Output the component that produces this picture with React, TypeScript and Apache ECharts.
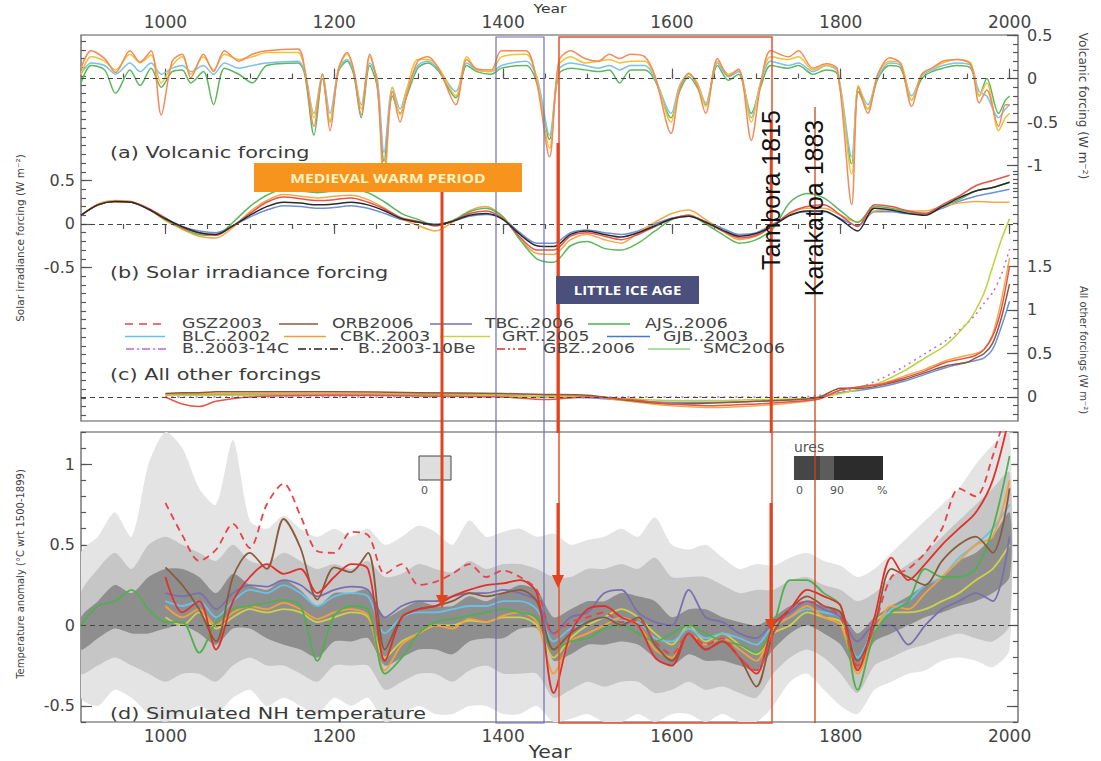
import React, { useEffect, useRef } from "react";
import * as echarts from "echarts";

// ---------------- DATA ----------------
const X_LABELS = [1000, 1200, 1400, 1600, 1800, 2000];
const X_MINOR = [950, 1000, 1050, 1100, 1150, 1200, 1250, 1300, 1350, 1400, 1450, 1500, 1550, 1600, 1650, 1700, 1750, 1800, 1850, 1900, 1950, 2000];

// (a) Volcanic forcing
const V_YEARS = [
  900, 912, 928, 941, 958, 970, 983, 995, 1008, 1020,
  1030, 1045, 1057, 1070, 1087, 1103, 1120, 1157, 1165, 1176,
  1186, 1195, 1205, 1215, 1223, 1232, 1242, 1251, 1259, 1269,
  1278, 1286, 1299, 1311, 1324, 1344, 1357, 1369, 1386, 1398,
  1427, 1440, 1455, 1466, 1480, 1497, 1513, 1526, 1538, 1551,
  1568, 1580, 1599, 1609, 1620, 1630, 1640, 1654, 1667, 1679,
  1694, 1705, 1717, 1738, 1750, 1767, 1783, 1796, 1813, 1821,
  1832, 1844, 1858, 1871, 1884, 1896, 1908, 1921, 1937, 1954,
  1964, 1973, 1987, 1995, 2000,
];
const V_ORANGE = [
  0.12, 0.32, 0.23, 0.07, 0.32, 0.19, 0.32, -0.42, 0.2, 0.28,
  0.01, 0.28, 0.08, 0.32, 0.2, 0.28, 0.32, 0.34, 0.11, -0.55,
  0.05, -0.6, 0.11, 0.3, 0.1, -0.42, 0.28, -0.08, -1.1, -0.15,
  -0.5, -0.18, 0.2, 0.25, 0.11, -0.3, 0.22, 0.11, 0.1, 0.32,
  0.32, -0.05, -0.9, 0.2, 0.32, 0.23, 0.2, 0.28, 0.23, 0.28,
  0.25, 0.03, -0.63, -0.13, 0.06, -0.08, -0.4, 0.23, 0.03, 0.11,
  -0.71, -0.08, 0.32, 0.25, 0.32, 0.12, 0.17, 0.11, -1.45, -0.1,
  -0.4, 0.05, 0.24, 0.17, -0.32, 0.05, 0.12, 0.2, 0.22, 0.16,
  -0.28, -0.13, -0.55, -0.3, -0.3,
];
const V_YELLOW = [
  0.05, 0.25, 0.2, 0.1, 0.28, 0.18, 0.27, -0.05, 0.15, 0.25,
  0.05, 0.25, 0.1, 0.28, 0.22, 0.25, 0.3, 0.3, 0.1, -0.45,
  0.05, -0.5, 0.1, 0.28, 0.1, -0.35, 0.25, -0.05, -1.3, -0.1,
  -0.42, -0.12, 0.22, 0.22, 0.12, -0.2, 0.25, 0.1, 0.08, 0.25,
  0.28, 0.0, -0.8, 0.15, 0.25, 0.18, 0.2, 0.22, 0.18, 0.2,
  0.2, 0.02, -0.5, -0.1, 0.05, -0.05, -0.32, 0.2, 0.05, 0.1,
  -0.5, -0.05, 0.25, 0.22, 0.25, 0.1, 0.15, 0.1, -1.1, -0.08,
  -0.35, 0.05, 0.2, 0.18, -0.25, 0.05, 0.12, 0.18, 0.22, 0.18,
  -0.2, -0.05, -0.6, -0.45, -0.4,
];
const V_GREEN = [
  -0.05, 0.15, 0.1, -0.17, 0.1, -0.08, 0.12, -0.1, 0.08, 0.1,
  -0.05, 0.08, -0.3, 0.12, 0.05, -0.05, 0.15, 0.18, 0.05, -0.65,
  0.0, -0.5, 0.08, 0.2, 0.05, -0.45, 0.15, -0.1, -0.95, -0.2,
  -0.4, -0.2, 0.12, 0.18, 0.08, -0.22, 0.15, 0.08, 0.05, 0.12,
  0.15, -0.05, -0.7, 0.05, 0.12, 0.1, 0.08, 0.1, -0.05, 0.1,
  0.1, -0.02, -0.45, -0.15, 0.02, -0.1, -0.3, 0.15, -0.02, 0.05,
  -0.4, -0.1, 0.15, 0.12, 0.15, 0.05, 0.1, 0.05, -0.98, -0.15,
  -0.35, 0.0, 0.15, 0.12, -0.25, 0.0, 0.08, 0.12, 0.15, 0.12,
  -0.2, 0.0, -0.4, -0.25, -0.2,
];
const V_BLUE = [
  0.05, 0.18, 0.15, 0.05, 0.18, 0.08, 0.18, 0.05, 0.12, 0.15,
  0.08, 0.15, 0.05, 0.18, 0.12, 0.15, 0.18, 0.2, 0.08, -0.4,
  0.05, -0.4, 0.1, 0.22, 0.08, -0.3, 0.18, 0.0, -0.85, -0.1,
  -0.35, -0.12, 0.15, 0.2, 0.1, -0.15, 0.18, 0.1, 0.08, 0.15,
  0.2, 0.02, -0.65, 0.1, 0.18, 0.15, 0.12, 0.15, 0.1, 0.15,
  0.15, 0.0, -0.4, -0.08, 0.05, -0.05, -0.28, 0.18, 0.02, 0.08,
  -0.45, -0.05, 0.2, 0.15, 0.18, 0.08, 0.15, 0.08, -0.9, -0.1,
  -0.3, 0.02, 0.18, 0.15, -0.2, 0.03, 0.1, 0.15, 0.18, 0.15,
  -0.15, -0.2, -0.45, -0.35, -0.3,
];

// 20-year sampling grids
const T_YEARS = [
  1000, 1020, 1040, 1060, 1080, 1100, 1120, 1140, 1160, 1180,
  1200, 1220, 1240, 1260, 1280, 1300, 1320, 1340, 1360, 1380,
  1400, 1420, 1440, 1460, 1480, 1500, 1520, 1540, 1560, 1580,
  1600, 1620, 1640, 1660, 1680, 1700, 1720, 1740, 1760, 1780,
  1800, 1820, 1840, 1860, 1880, 1900, 1920, 1940, 1960, 1980,
  2000,
];
const B_YEARS = [900, 920, 940, 960, 980, ...T_YEARS];

// (b) Solar irradiance forcing (on B_YEARS)
const S_RED = [
  0.1, 0.22, 0.26, 0.25, 0.18,
  0.07, -0.04, -0.1, -0.13, -0.02, 0.12, 0.25, 0.31, 0.29, 0.27,
  0.28, 0.3, 0.25, 0.17, 0.07, 0.03, -0.02, 0.03, 0.12, 0.15,
  0.06, -0.15, -0.3, -0.3, -0.14, -0.1, -0.14, -0.18, -0.12, -0.03,
  0.06, 0.1, 0.02, -0.08, -0.16, -0.13, -0.02, 0.13, 0.2, 0.22,
  0.1, -0.03, 0.22, 0.2, 0.15, 0.12, 0.22, 0.32, 0.44, 0.5,
  0.56,
];
const S_GREEN = [
  0.1, 0.22, 0.26, 0.25, 0.17,
  0.05, -0.05, -0.12, -0.13, 0.02, 0.2, 0.33, 0.4, 0.38, 0.36,
  0.38, 0.4, 0.36, 0.25, 0.12, 0.05, -0.02, 0.04, 0.14, 0.18,
  0.08, -0.18, -0.4, -0.44, -0.25, -0.2, -0.28, -0.3, -0.22, -0.08,
  0.05, 0.1, 0.0, -0.12, -0.22, -0.18, -0.05, 0.25, 0.35, 0.3,
  0.15, 0.02, 0.2, 0.18, 0.14, 0.12, 0.2, 0.28, 0.38, 0.42,
  0.48,
];
const S_BLACK = [
  0.1, 0.22, 0.26, 0.25, 0.17,
  0.06, -0.03, -0.1, -0.12, -0.02, 0.1, 0.2, 0.25, 0.24, 0.22,
  0.23, 0.25, 0.22, 0.15, 0.06, 0.02, -0.01, 0.03, 0.1, 0.12,
  0.05, -0.12, -0.25, -0.26, -0.12, -0.08, -0.12, -0.15, -0.1, -0.02,
  0.06, 0.09, 0.02, -0.07, -0.14, -0.11, -0.02, 0.1, 0.15, 0.15,
  0.05, -0.08, 0.18, 0.16, 0.12, 0.1, 0.2, 0.3, 0.38, 0.42,
  0.48,
];
const S_BLUE = [
  0.1, 0.22, 0.26, 0.25, 0.17,
  0.06, -0.03, -0.08, -0.1, -0.02, 0.08, 0.16, 0.21, 0.2, 0.18,
  0.19, 0.21, 0.18, 0.12, 0.05, 0.02, 0.0, 0.03, 0.09, 0.11,
  0.06, -0.1, -0.22, -0.22, -0.1, -0.07, -0.1, -0.12, -0.08, 0.0,
  0.07, 0.09, 0.03, -0.05, -0.12, -0.1, 0.0, 0.1, 0.14, 0.14,
  0.06, -0.02, 0.14, 0.14, 0.12, 0.12, 0.18, 0.26, 0.32, 0.36,
  0.4,
];
const S_ORANGE = [
  0.1, 0.23, 0.27, 0.26, 0.17,
  0.04, -0.06, -0.14, -0.16, -0.04, 0.14, 0.27, 0.34, 0.32, 0.3,
  0.32, 0.33, 0.28, 0.18, 0.06, -0.02, -0.08, 0.02, 0.15, 0.2,
  0.08, -0.17, -0.34, -0.35, -0.18, -0.12, -0.18, -0.22, -0.1, 0.02,
  0.12, 0.16, 0.05, -0.08, -0.18, -0.14, -0.02, 0.12, 0.18, 0.18,
  0.1, 0.02, 0.15, 0.16, 0.15, 0.15, 0.2, 0.24, 0.26, 0.25,
  0.25,
];

// (c) All other forcings
const O_YEARS = [1000, 1020, 1040, 1060, 1100, 1200, 1300, 1400, 1450, 1500, 1550, 1600, 1650, 1700, 1750, 1775, 1800, 1825, 1850, 1875, 1900, 1925, 1950, 1960, 1970, 1980, 1990, 2000];
const O_RED = [0.0, -0.08, -0.11, -0.05, 0.0, 0.02, 0.01, 0.0, -0.03, 0.0, -0.03, -0.08, -0.1, -0.08, -0.05, -0.02, 0.08, 0.12, 0.15, 0.22, 0.3, 0.4, 0.45, 0.48, 0.55, 0.7, 1.0, 1.5];
const O_BROWN = [0.04, 0.05, 0.05, 0.06, 0.06, 0.06, 0.05, 0.04, 0.03, 0.02, -0.04, -0.08, -0.07, -0.05, -0.03, 0.0, 0.1, 0.1, 0.14, 0.2, 0.28, 0.36, 0.4, 0.45, 0.5, 0.62, 0.9, 1.3];
const O_YGREEN = [0.02, 0.02, 0.02, 0.02, 0.02, 0.02, 0.02, 0.01, 0.0, 0.0, -0.02, -0.04, -0.04, -0.03, -0.02, 0.0, 0.04, 0.1, 0.18, 0.3, 0.45, 0.6, 0.85, 1.0, 1.2, 1.5, 1.8, 2.05];
const O_PURPLE = [0.0, 0.0, 0.0, 0.0, 0.0, 0.0, 0.0, 0.0, 0.0, 0.0, 0.0, 0.0, 0.0, 0.0, 0.0, 0.02, 0.06, 0.12, 0.22, 0.35, 0.5, 0.65, 0.85, 0.95, 1.08, 1.2, 1.4, 1.7];
const O_BLUE = [0.03, 0.03, 0.03, 0.03, 0.03, 0.03, 0.03, 0.02, 0.0, -0.01, -0.04, -0.06, -0.06, -0.05, -0.03, -0.01, 0.05, 0.08, 0.12, 0.18, 0.26, 0.34, 0.4, 0.42, 0.45, 0.55, 0.8, 1.1];
const O_ORANGE = [0.03, 0.04, 0.04, 0.04, 0.04, 0.04, 0.04, 0.03, 0.02, 0.01, -0.05, -0.1, -0.12, -0.1, -0.06, -0.02, 0.08, 0.12, 0.16, 0.24, 0.32, 0.42, 0.48, 0.5, 0.55, 0.72, 1.1, 1.6];

// (d) Simulated NH temperature: spread bands (on B_YEARS)
const BAND_OUT_HI = [
  0.45, 0.55, 0.7, 0.55, 1.0,
  1.2, 1.1, 0.85, 0.75, 1.15, 0.65, 0.6, 0.68, 0.6, 0.55,
  0.6, 0.55, 0.6, 0.5, 0.55, 0.62, 0.58, 0.5, 0.65, 0.55,
  0.58, 0.6, 0.55, 0.57, 0.5, 0.53, 0.55, 0.6, 0.55, 0.67,
  0.5, 0.47, 0.5, 0.42, 0.35, 0.38, 0.37, 0.42, 0.45, 0.4,
  0.37, 0.3, 0.35, 0.45, 0.55, 0.65, 0.75, 0.85, 1.0, 1.12,
  1.2,
];
const BAND_OUT_LO = [
  -0.45, -0.5, -0.4, -0.45, -0.55,
  -0.6, -0.55, -0.5, -0.55, -0.45, -0.4, -0.5, -0.45, -0.5, -0.55,
  -0.45, -0.5, -0.45, -0.6, -0.55, -0.5, -0.55, -0.55, -0.5, -0.5,
  -0.55, -0.55, -0.5, -0.6, -0.58, -0.55, -0.6, -0.6, -0.55, -0.6,
  -0.55, -0.55, -0.6, -0.55, -0.6, -0.6, -0.5, -0.35, -0.3, -0.4,
  -0.5, -0.55, -0.4, -0.35, -0.3, -0.28, -0.22, -0.2, -0.22, -0.26,
  -0.15,
];
const BAND_MID_HI = [
  0.2, 0.35, 0.45, 0.35, 0.5,
  0.55, 0.5, 0.45, 0.4, 0.5, 0.4, 0.38, 0.45, 0.4, 0.35,
  0.38, 0.35, 0.4, 0.3, 0.32, 0.38, 0.35, 0.33, 0.4, 0.35,
  0.38, 0.38, 0.35, 0.3, 0.3, 0.35, 0.35, 0.38, 0.35, 0.42,
  0.3, 0.3, 0.3, 0.25, 0.2, 0.22, 0.22, 0.28, 0.3, 0.25,
  0.22, 0.15, 0.2, 0.3, 0.38, 0.45, 0.55, 0.65, 0.75, 0.85,
  0.95,
];
const BAND_MID_LO = [
  -0.3, -0.25, -0.2, -0.25, -0.3,
  -0.35, -0.3, -0.3, -0.35, -0.25, -0.2, -0.25, -0.25, -0.3, -0.35,
  -0.25, -0.25, -0.25, -0.4, -0.35, -0.3, -0.3, -0.35, -0.28, -0.25,
  -0.3, -0.3, -0.3, -0.45, -0.4, -0.35, -0.38, -0.35, -0.35, -0.42,
  -0.4, -0.35, -0.4, -0.38, -0.42, -0.45, -0.3, -0.2, -0.15, -0.2,
  -0.3, -0.42, -0.25, -0.2, -0.15, -0.12, -0.08, -0.05, -0.08, -0.1,
  0.0,
];
const BAND_IN_HI = [
  0.05, 0.15, 0.25, 0.2, 0.3,
  0.35, 0.35, 0.3, 0.2, 0.32, 0.25, 0.22, 0.28, 0.22, 0.12,
  0.2, 0.2, 0.22, 0.05, 0.1, 0.15, 0.12, 0.12, 0.18, 0.15,
  0.2, 0.25, 0.22, 0.05, 0.1, 0.15, 0.15, 0.2, 0.18, 0.15,
  0.05, 0.1, 0.1, 0.05, 0.02, 0.0, 0.05, 0.12, 0.15, 0.12,
  0.08, -0.05, 0.05, 0.12, 0.18, 0.25, 0.3, 0.4, 0.45, 0.55,
  0.7,
];
const BAND_IN_LO = [
  -0.15, -0.08, -0.02, -0.05, -0.05,
  -0.02, 0.0, -0.05, -0.12, -0.02, -0.02, -0.08, -0.12, -0.15, -0.2,
  -0.1, -0.1, -0.08, -0.25, -0.2, -0.15, -0.15, -0.18, -0.1, -0.08,
  -0.08, -0.02, -0.02, -0.22, -0.18, -0.12, -0.12, -0.1, -0.12, -0.2,
  -0.25, -0.18, -0.22, -0.22, -0.25, -0.28, -0.15, -0.05, 0.0, -0.05,
  -0.12, -0.28, -0.1, -0.05, 0.0, 0.05, 0.08, 0.12, 0.15, 0.2,
  0.3,
];

// (d) temperature series (on T_YEARS; AJS on B_YEARS)
const T_GSZ = [
  0.76, 0.56, 0.4, 0.47, 0.63, 0.48, 0.75, 0.88, 0.68, 0.46,
  0.45, 0.58, 0.56, 0.32, 0.38, 0.25, 0.27, 0.32, 0.38, 0.3,
  0.34, 0.3, 0.22, -0.05, 0.02, 0.05, 0.08, 0.02, 0.03, -0.1,
  -0.18, -0.05, -0.12, -0.08, -0.2, -0.28, -0.05, 0.1, 0.15, 0.12,
  0.05, -0.25, 0.0, 0.3, 0.35, 0.45, 0.6, 0.85, 0.8, 1.05,
  1.4,
];
const T_ORB = [
  0.36, 0.25, 0.1, -0.1, 0.3, 0.45, 0.35, 0.66, 0.48, 0.16,
  0.36, 0.33, 0.45, -0.15, 0.05, 0.1, 0.12, 0.15, 0.2, 0.18,
  0.2, 0.22, 0.15, -0.15, -0.05, 0.02, 0.05, 0.0, 0.05, -0.12,
  -0.22, -0.05, -0.15, -0.1, -0.2, -0.38, -0.05, 0.1, 0.18, 0.12,
  0.08, -0.22, 0.0, 0.35, 0.3, 0.25, 0.4, 0.5, 0.55, 0.45,
  0.85,
];
const T_AJS = [
  0.0, 0.12, 0.15, 0.22, 0.1,
  0.02, 0.02, -0.17, 0.02, 0.1, 0.12, 0.14, 0.16, 0.12, -0.22,
  0.06, 0.12, 0.1, -0.3, -0.2, -0.05, 0.02, 0.04, 0.06, 0.08,
  0.1, 0.08, 0.05, -0.15, -0.1, -0.08, -0.02, 0.0, -0.05, -0.1,
  -0.05, 0.0, -0.05, -0.1, -0.12, -0.17, 0.0, 0.28, 0.28, 0.2,
  0.12, -0.4, -0.05, 0.08, 0.15, 0.35, 0.3, 0.3, 0.35, 0.6,
  1.05,
];
const T_CBK = [
  0.12, 0.05, 0.1, 0.0, 0.08, 0.12, 0.1, 0.14, 0.1, 0.04,
  0.08, 0.1, 0.06, -0.28, -0.12, -0.05, 0.0, -0.02, 0.04, 0.02,
  0.06, 0.08, 0.02, -0.3, -0.1, -0.05, 0.0, 0.05, 0.0, -0.15,
  -0.2, -0.05, -0.12, -0.08, -0.15, -0.22, -0.02, 0.05, 0.12, 0.05,
  0.0, -0.3, -0.05, 0.12, 0.1, 0.2, 0.3, 0.4, 0.5, 0.55,
  0.9,
];
const T_BLC = [
  0.15, 0.12, 0.15, 0.05, 0.15, 0.22, 0.2, 0.25, 0.2, 0.12,
  0.18, 0.2, 0.18, -0.05, 0.05, 0.08, 0.08, 0.1, 0.12, 0.12,
  0.15, 0.15, 0.1, -0.1, -0.02, 0.02, 0.05, 0.03, 0.02, -0.08,
  -0.1, -0.02, -0.08, -0.05, -0.08, -0.12, 0.0, 0.05, 0.1, 0.08,
  0.05, -0.2, -0.02, 0.1, 0.15, 0.25, 0.3, 0.42, 0.5, 0.6,
  0.75,
];
const T_TBC = [
  0.2, 0.18, 0.2, 0.1, 0.2, 0.25, 0.24, 0.28, 0.25, 0.18,
  0.22, 0.24, 0.22, 0.05, 0.12, 0.15, 0.15, 0.18, 0.2, 0.2,
  0.22, 0.2, 0.15, -0.05, 0.05, 0.08, 0.2, 0.22, 0.08, 0.02,
  0.0, 0.22, 0.05, 0.02, -0.05, -0.08, 0.02, 0.08, 0.15, 0.1,
  0.05, -0.1, 0.0, 0.0, -0.12, 0.0, 0.1, 0.15, 0.2, 0.15,
  0.55,
];
const T_GBZ = [
  0.3, 0.08, 0.15, -0.15, 0.15, 0.3, 0.38, 0.32, 0.35, 0.2,
  0.3, 0.38, 0.35, -0.22, 0.05, 0.1, 0.12, 0.18, 0.22, 0.25,
  0.26, 0.28, 0.2, -0.42, -0.05, 0.1, 0.12, 0.05, 0.0, -0.2,
  -0.25, -0.05, -0.15, -0.1, -0.2, -0.3, 0.0, 0.1, 0.22, 0.18,
  0.12, -0.28, 0.05, 0.42, 0.28, 0.38, 0.5, 0.6, 0.7, 0.9,
  1.3,
];
const T_GRT = [
  0.05, 0.0, 0.08, -0.02, 0.05, 0.1, 0.08, 0.1, 0.08, 0.02,
  0.05, 0.08, 0.05, -0.2, -0.1, -0.05, 0.0, 0.0, 0.03, 0.02,
  0.05, 0.05, 0.0, -0.2, -0.08, 0.0, 0.05, 0.1, 0.05, -0.05,
  -0.12, 0.0, -0.1, -0.05, -0.12, -0.18, -0.05, 0.0, 0.08, 0.05,
  0.02, -0.28, 0.02, 0.08, 0.08, 0.1, 0.15, 0.2, 0.28, 0.35,
  0.5,
];

const LEGEND_NAMES = [
  "GSZ2003", "ORB2006", "TBC..2006", "AJS..2006",
  "BLC..2002", "CBK..2003", "GRT..2005", "GJB..2003",
  "B..2003-14C", "B..2003-10Be", "GBZ..2006", "SMC2006",
];

// ---------------- STYLE ----------------
const FONT = "DejaVu Sans";
const C = {
  GSZ: "#e8434a", ORB: "#8b5a3c", TBC: "#7b6fb0", AJS: "#4fb04f",
  BLC: "#66c2e8", CBK: "#f2a03d", GRT: "#cbd24a", GJB: "#4a78c8",
  B14: "#b56bd6", B10: "#222222", GBZ: "#e0302c", SMC: "#8fd48a",
};
const LEGEND_STYLE = [
  [C.GSZ, [8, 6]], [C.ORB, null], [C.TBC, null], [C.AJS, null],
  [C.BLC, null], [C.CBK, null], [C.GRT, null], [C.GJB, null],
  [C.B14, [8, 3, 2, 3]], [C.B10, [8, 3, 2, 3]], [C.GBZ, [8, 3, 2, 3, 2, 3]], [C.SMC, null],
];
const LEGEND_POS = [
  [125, 165, 182], [279, 318, 332], [430, 472, 485], [588, 630, 645],
  [125, 165, 182], [284, 326, 340], [440, 490, 502], [607, 650, 663],
  [126, 168, 182], [298, 346, 358], [497, 528, 543], [648, 690, 703],
];
const LEGEND_ROWS = [324, 336.5, 349];

const range = (a: number, b: number, s: number) => {
  const out: number[] = [];
  for (let v = a; v <= b + 1e-9; v += s) out.push(Math.round(v * 100) / 100);
  return out;
};
const pairs = (xs: number[], ys: number[]) => xs.map((x, i) => [x, ys[i]]);
const plain = (v: number) => String(v);

function xAx(grid: number, pos: string, ticks: number[], len: number, labels: boolean) {
  return {
    type: "value", gridIndex: grid, position: pos, min: 900, max: 2010,
    axisLine: { show: false }, splitLine: { show: false },
    axisTick: { show: true, inside: true, length: len, customValues: ticks, lineStyle: { color: "#555", width: 1.2 } },
    axisLabel: labels
      ? { show: true, customValues: X_LABELS, formatter: plain, fontSize: 17, color: "#444", margin: 5, fontFamily: FONT }
      : { show: false },
  };
}
function yAx(grid: number, pos: string, min: number, max: number, ticks: number[], len: number, labels: number[] | null) {
  return {
    type: "value", gridIndex: grid, position: pos, min, max,
    axisLine: { show: false }, splitLine: { show: false },
    axisTick: { show: true, inside: true, length: len, customValues: ticks, lineStyle: { color: "#555", width: 1.2 } },
    axisLabel: labels
      ? { show: true, customValues: labels, formatter: plain, fontSize: 16, color: "#444", margin: pos === "left" ? 6 : 9, fontFamily: FONT }
      : { show: false },
  };
}

function line(name: string, data: number[][], color: string, xi: number, yi: number, extra: any = {}) {
  return {
    type: "line", name, data, xAxisIndex: xi, yAxisIndex: yi,
    symbol: "none", showSymbol: false, smooth: 0.3, z: 3,
    lineStyle: { color, width: 1.5, type: extra.dash || "solid" },
    ...extra.series,
  };
}
function zeroLine() {
  return {
    silent: true, symbol: ["none", "none"], label: { show: false }, animation: false,
    lineStyle: { color: "#444", type: [5, 4], width: 1.1 }, data: [{ yAxis: 0 }],
  };
}
function band(lo: number[], hi: number[], color: string, id: string) {
  return {
    type: "custom", name: id, xAxisIndex: 4, yAxisIndex: 6, z: 1, silent: true, clip: true,
    data: B_YEARS.map((y, i) => [y, lo[i], hi[i]]),
    encode: { x: 0, y: [1, 2] },
    renderItem: (params: any, api: any) => {
      if (params.dataIndex !== 0) return null;
      const top = B_YEARS.map((y, i) => api.coord([y, hi[i]]));
      const bot = B_YEARS.map((y, i) => api.coord([y, lo[i]])).reverse();
      return {
        type: "polygon",
        shape: { points: [...top, ...bot], smooth: 0.25 },
        style: { fill: color, stroke: "none" },
      };
    },
  };
}

function buildOption() {
  const series: any[] = [];
  // (a) volcanic: x 0, y 2
  series.push(line("V-green", pairs(V_YEARS, V_GREEN), "#5cb85c", 0, 2, { series: { markLine: zeroLine() } }));
  series.push(line("V-blue", pairs(V_YEARS, V_BLUE), "#7ec0e8", 0, 2));
  series.push(line("V-yellow", pairs(V_YEARS, V_YELLOW), "#f0c236", 0, 2));
  series.push(line("V-orange", pairs(V_YEARS, V_ORANGE), "#f28a5a", 0, 2));
  // (b) solar: x 0, y 0
  series.push(line("S-blue", pairs(B_YEARS, S_BLUE), "#6f8fd8", 0, 0, { series: { markLine: zeroLine() } }));
  series.push(line("S-orange", pairs(B_YEARS, S_ORANGE), "#f2a94a", 0, 0));
  series.push(line("S-green", pairs(B_YEARS, S_GREEN), "#5cb85c", 0, 0));
  series.push(line("S-red", pairs(B_YEARS, S_RED), "#e8534a", 0, 0));
  series.push(line("S-black", pairs(B_YEARS, S_BLACK), "#2a2a2a", 0, 0));
  // (c) other forcings: x 0, y 4
  series.push(line("O-blue", pairs(O_YEARS, O_BLUE), "#6f8fd8", 0, 4, { series: { markLine: zeroLine() } }));
  series.push(line("O-purple", pairs(O_YEARS, O_PURPLE), "#b56bd6", 0, 4, { dash: [2, 4] }));
  series.push(line("O-ygreen", pairs(O_YEARS, O_YGREEN), "#bfd23a", 0, 4));
  series.push(line("O-orange", pairs(O_YEARS, O_ORANGE), "#f2a94a", 0, 4));
  series.push(line("O-brown", pairs(O_YEARS, O_BROWN), "#8b5a3c", 0, 4));
  series.push(line("O-red", pairs(O_YEARS, O_RED), "#e8534a", 0, 4));
  // (d) spread bands
  series.push(band(BAND_OUT_LO, BAND_OUT_HI, "#e4e4e4", "b1"));
  series.push(band(BAND_MID_LO, BAND_MID_HI, "#c6c6c6", "b2"));
  series.push(band(BAND_IN_LO, BAND_IN_HI, "#8e8e8e", "b3"));
  const tw = (s: any) => ({ ...s, lineStyle: { ...s.lineStyle, width: 1.8 } });
  series.push(tw(line("GRT..2005", pairs(T_YEARS, T_GRT), C.GRT, 4, 6, { series: { markLine: zeroLine() } })));
  series.push(tw(line("BLC..2002", pairs(T_YEARS, T_BLC), C.BLC, 4, 6)));
  series.push(tw(line("TBC..2006", pairs(T_YEARS, T_TBC), C.TBC, 4, 6)));
  series.push(tw(line("CBK..2003", pairs(T_YEARS, T_CBK), C.CBK, 4, 6)));
  series.push(tw(line("AJS..2006", pairs(B_YEARS, T_AJS), C.AJS, 4, 6)));
  series.push(tw(line("ORB2006", pairs(T_YEARS, T_ORB), C.ORB, 4, 6)));
  series.push(tw(line("GBZ..2006", pairs(T_YEARS, T_GBZ), C.GBZ, 4, 6)));
  series.push(tw(line("GSZ2003", pairs(T_YEARS, T_GSZ), C.GSZ, 4, 6, { dash: [7, 5] })));

  const g: any[] = [];
  const txt = (text: string, x: number, y: number, o: any = {}) => ({
    type: "text", x, y, z: 61, rotation: o.rotation || 0, scaleX: o.scaleX || 1, scaleY: o.scaleY || 1,
    style: {
      text, fill: o.fill || "#3a3a3a", fontSize: o.fontSize || 16, fontFamily: o.fontFamily || FONT,
      fontWeight: o.fontWeight || "normal",
      textAlign: o.align || "left", align: o.align || "left",
      textVerticalAlign: "middle", verticalAlign: "middle",
    },
  });
  const ln = (x1: number, y1: number, x2: number, y2: number, stroke: string, w: number, dash?: number[]) => ({
    type: "line", z: 55, shape: { x1, y1, x2, y2 }, style: { stroke, lineWidth: w, lineDash: dash || null },
  });
  const head = (x: number, y: number, color: string) => ({
    type: "polygon", z: 56, shape: { points: [[x - 6, y - 13], [x + 6, y - 13], [x, y]] }, style: { fill: color },
  });

  // legend
  LEGEND_NAMES.forEach((name, i) => {
    const row = LEGEND_ROWS[Math.floor(i / 4)];
    const [x1, x2, tx] = LEGEND_POS[i];
    const [col, dash] = LEGEND_STYLE[i] as [string, number[] | null];
    g.push(ln(x1, row, x2, row, col, 1.5, dash || undefined));
    g.push(txt(name, tx, row, { fontSize: 13.5, scaleX: 1.28, fill: "#444" }));
  });

  // panel titles
  g.push(txt("(a) Volcanic forcing", 110, 152, { scaleX: 1.3 }));
  g.push(txt("(b) Solar irradiance forcing", 110, 272, { scaleX: 1.3 }));
  g.push(txt("(c) All other forcings", 110, 374, { scaleX: 1.3 }));
  g.push(txt("(d) Simulated NH temperature", 110, 713, { scaleX: 1.3 }));
  g.push(txt("Year", 550, 752, { align: "center", fontSize: 17, scaleX: 1.2 }));
  g.push(txt("Year", 550, 8, { align: "center", fontSize: 13, scaleX: 1.2 }));

  // axis titles
  g.push(txt("Solar irradiance forcing (W m\u207B\u00B2)", 20, 238, { align: "center", fontSize: 10.5, rotation: Math.PI / 2, fill: "#444" }));
  g.push(txt("Temperature anomaly (\u00B0C wrt 1500-1899)", 20, 574, { align: "center", fontSize: 10, rotation: Math.PI / 2, fill: "#444" }));
  g.push(txt("Volcanic forcing (W m\u207B\u00B2)", 1083, 106, { align: "center", fontSize: 12, rotation: -Math.PI / 2, fill: "#444" }));
  g.push(txt("All other forcings (W m\u207B\u00B2)", 1083, 350, { align: "center", fontSize: 10, rotation: -Math.PI / 2, fill: "#444" }));

  // remnants of the shading key in panel (d)
  g.push({ type: "rect", z: 50, shape: { x: 419, y: 456, width: 32, height: 24 }, style: { fill: "#dedede", stroke: "#444", lineWidth: 1 } });
  g.push(txt("0", 421, 490, { fontSize: 11, fill: "#555" }));
  g.push({ type: "rect", z: 50, shape: { x: 794, y: 456, width: 26, height: 24 }, style: { fill: "#464646" } });
  g.push({ type: "rect", z: 50, shape: { x: 820, y: 456, width: 14, height: 24 }, style: { fill: "#5c5c5c" } });
  g.push({ type: "rect", z: 50, shape: { x: 834, y: 456, width: 49, height: 24 }, style: { fill: "#2c2c2c" } });
  g.push(txt("ures", 794, 447, { fontSize: 14, fill: "#555" }));
  g.push(txt("0", 796, 490, { fontSize: 11, fill: "#555" }));
  g.push(txt("90", 830, 490, { fontSize: 11, fill: "#555" }));
  g.push(txt("%", 877, 490, { fontSize: 11, fill: "#555" }));

  // period rectangles
  g.push({ type: "rect", z: 54, shape: { x: 496, y: 37, width: 48, height: 686 }, style: { fill: "none", stroke: "#6f6fb8", lineWidth: 1.2 } });
  g.push({ type: "rect", z: 54, shape: { x: 559, y: 37, width: 213, height: 686 }, style: { fill: "none", stroke: "#e8502e", lineWidth: 1.5 } });

  // arrows and event lines
  const RED = "#e0451e";
  g.push(ln(442, 192, 442, 596, RED, 3));
  g.push(head(442, 608, RED));
  g.push(ln(558, 143, 558, 433, RED, 3));
  g.push(ln(558, 503, 558, 576, RED, 3));
  g.push(head(558, 588, RED));
  g.push(ln(771, 120, 771, 433, RED, 2.5));
  g.push(ln(771, 503, 771, 620, RED, 3));
  g.push(head(771, 632, RED));
  g.push(ln(815, 107, 815, 723, "#c8461e", 1.3));
  g.push(txt("Tambora 1815", 771, 190, { align: "center", fontSize: 25, fontFamily: "Liberation Sans", rotation: Math.PI / 2, fill: "#111" }));
  g.push(txt("Karakatoa 1883", 814, 208, { align: "center", fontSize: 25, fontFamily: "Liberation Sans", rotation: Math.PI / 2, fill: "#111" }));

  // period boxes
  g.push({ type: "rect", z: 57, shape: { x: 254, y: 163, width: 268, height: 29 }, style: { fill: "#f7941d" } });
  g.push(txt("MEDIEVAL WARM PERIOD", 388, 178, { align: "center", fontSize: 13, fontWeight: "bold", fontFamily: "Open Sans", fill: "#fff3c4", scaleX: 1.2 }));
  g.push({ type: "rect", z: 57, shape: { x: 556, y: 276, width: 143, height: 28 }, style: { fill: "#4b4f7c" } });
  g.push(txt("LITTLE ICE AGE", 627.5, 290, { align: "center", fontSize: 13, fontWeight: "bold", fontFamily: "Open Sans", fill: "#ffffff", scaleX: 1.15 }));

  return {
    animation: false,
    backgroundColor: "#ffffff",
    textStyle: { fontFamily: FONT },
    grid: [
      { left: 81, top: 35, width: 937, height: 386, show: true, borderColor: "#555", borderWidth: 1.2, backgroundColor: "transparent", outerBoundsMode: "none", containLabel: false },
      { left: 81, top: 432, width: 937, height: 290, show: true, borderColor: "#555", borderWidth: 1.2, backgroundColor: "transparent", outerBoundsMode: "none", containLabel: false },
    ],
    xAxis: [
      xAx(0, "top", X_LABELS, 10, true),
      xAx(0, "top", X_MINOR, 5, false),
      xAx(0, "bottom", X_LABELS, 10, false),
      xAx(0, "bottom", X_MINOR, 5, false),
      xAx(1, "bottom", X_LABELS, 10, true),
      xAx(1, "bottom", X_MINOR, 5, false),
      xAx(1, "top", X_LABELS, 10, false),
      xAx(1, "top", X_MINOR, 5, false),
    ],
    yAxis: [
      yAx(0, "left", -2.2644, 2.1724, [-0.5, 0, 0.5], 11, [-0.5, 0, 0.5]),
      yAx(0, "left", -2.2644, 2.1724, range(-2.2, 2.1, 0.1), 5, null),
      yAx(0, "right", -3.937, 0.501, [-1, -0.5, 0, 0.5], 11, [-1, -0.5, 0, 0.5]),
      yAx(0, "right", -3.937, 0.501, range(-1.3, 0.5, 0.1), 5, null),
      yAx(0, "right", -0.276, 4.161, [0, 0.5, 1, 1.5], 11, [0, 0.5, 1, 1.5]),
      yAx(0, "right", -0.276, 4.161, range(-0.2, 2.6, 0.1), 5, null),
      yAx(1, "left", -0.6, 1.2, [-0.5, 0, 0.5, 1], 11, [-0.5, 0, 0.5, 1]),
      yAx(1, "left", -0.6, 1.2, range(-0.6, 1.2, 0.1), 5, null),
      yAx(1, "right", -0.6, 1.2, [-0.5, 0, 0.5, 1], 11, null),
      yAx(1, "right", -0.6, 1.2, range(-0.6, 1.2, 0.1), 5, null),
    ],
    series,
    graphic: { elements: g },
  };
}

export default function App() {
  const ref = useRef<HTMLDivElement>(null);
  useEffect(() => {
    if (!ref.current) return;
    const chart = echarts.init(ref.current, null, { renderer: "svg" });
    chart.setOption(buildOption() as any);
    return () => chart.dispose();
  }, []);
  return (
    <div
      ref={ref}
      style={{ position: "absolute", left: 0, top: 0, width: 1101, height: 761, background: "#fff" }}
    />
  );
}
